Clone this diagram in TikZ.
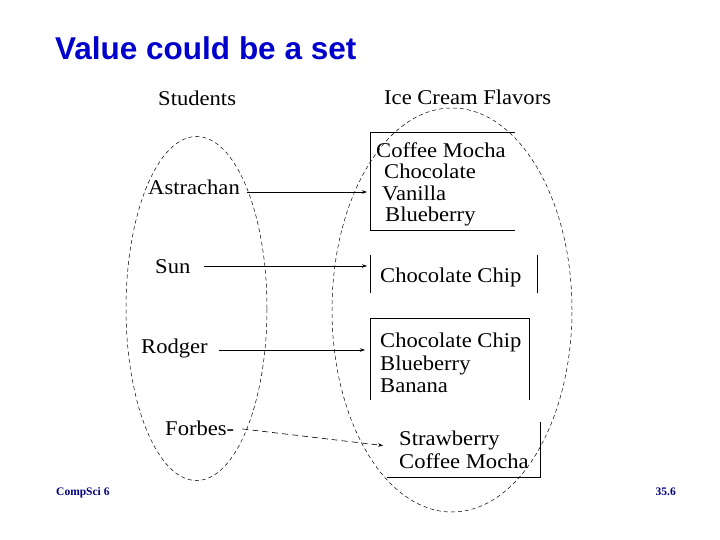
\documentclass[tikz,border=0pt]{standalone}
\usepackage{fontspec}
\setmainfont{Liberation Serif}
\newfontfamily\diagfont{Liberation Serif}[FakeStretch=1.076]
\newfontfamily\titlefont{Liberation Sans}
\usetikzlibrary{arrows.meta,shapes.geometric}
\definecolor{titleblue}{RGB}{0,0,204}
\definecolor{footnavy}{RGB}{0,0,128}
\begin{document}
\begin{tikzpicture}[x=1pt,y=-1pt,
  lbl/.style={anchor=base west, inner sep=0pt, font=\diagfont\fontsize{21}{21}\selectfont},
  setell/.style={ellipse, draw, dash pattern=on 4pt off 3pt, line width=0.5pt, inner sep=0pt},
  area/.style={anchor=north west, inner sep=0pt, outer sep=0pt},
  side/.style={line width=0.8pt},
  conn/.style={-{Stealth[length=5pt,width=3.5pt]}, line width=0.6pt},
  foot/.style={anchor=base west, inner sep=0pt, text=footnavy, font=\bfseries\fontsize{11.5}{11.5}\selectfont}]
\useasboundingbox (0,0) rectangle (720,540);

% title
\node[anchor=base west, inner sep=0pt, text=titleblue,
      font=\titlefont\bfseries\fontsize{31.5}{31.5}\selectfont] (title) at (55,60) {Value could be a set};

% sets
\node[setell, minimum width=141pt, minimum height=344pt] (stud) at (196.5,308.5) {};
\node[setell, minimum width=240pt, minimum height=404pt] (flav) at (452,310) {};

% headings
\node[lbl] (hstud) at (158,106) {Students};
\node[lbl] (hflav) at (384,105) {Ice Cream Flavors};

% students
\node[lbl] (astr) at (148,195) {Astrachan};
\node[lbl] (sun) at (155,273) {Sun};
\node[lbl] (rodg) at (141,353) {Rodger};
\node[lbl] (forb) at (165,435) {Forbes-};

% value boxes
\node[area, minimum width=145pt, minimum height=98pt] (b1) at (370,132) {};
\draw[side] (b1.north east) -- (b1.north west) -- (b1.south west) -- (b1.south east);
\node[lbl] (b1a) at (376,158) {Coffee Mocha};
\node[lbl] (b1b) at (384,179) {Chocolate};
\node[lbl] (b1c) at (382,201) {Vanilla};
\node[lbl] (b1d) at (385,222) {Blueberry};

\node[area, minimum width=167pt, minimum height=38pt] (b2) at (370,255) {};
\draw[side] (b2.north west) -- (b2.south west);
\draw[side] (b2.north east) -- (b2.south east);
\node[lbl] (b2a) at (380,282) {Chocolate Chip};

\node[area, minimum width=159pt, minimum height=82pt] (b3) at (370,318) {};
\draw[side] (b3.south west) -- (b3.north west) -- (b3.north east) -- (b3.south east);
\node[lbl] (b3a) at (380,347) {Chocolate Chip};
\node[lbl] (b3b) at (380,370) {Blueberry};
\node[lbl] (b3c) at (380,392) {Banana};

\node[area, minimum width=153pt, minimum height=55pt] (b4) at (387,422) {};
\draw[side] (b4.north east) -- (b4.south east) -- (b4.south west);
\node[lbl] (b4a) at (399,445) {Strawberry};
\node[lbl] (b4b) at (399,468) {Coffee Mocha};

% connectors
\coordinate (s1) at ([yshift=3pt]astr.base east);
\draw[conn, shorten <=7pt, shorten >=3pt] (s1) -- (s1 -| b1.west);
\coordinate (s2) at ([yshift=7pt]sun.base east);
\draw[conn, shorten <=13pt, shorten >=3pt] (s2) -- (s2 -| b2.west);
\coordinate (s3) at ([yshift=3pt]rodg.base east);
\draw[conn, shorten <=11pt, shorten >=5pt] (s3) -- (s3 -| b3.west);
\coordinate (s4) at ([yshift=7pt]forb.base east);
\coordinate (t4) at ([yshift=3.5pt]b4.west);
\draw[conn, dash pattern=on 6pt off 4pt, shorten <=8pt, shorten >=4pt] (s4) -- (t4);

% footer
\node[foot] (course) at (56,495) {CompSci 6};
\node[foot, anchor=base east] (page) at (676,495) {35.6};
\end{tikzpicture}
\end{document}
